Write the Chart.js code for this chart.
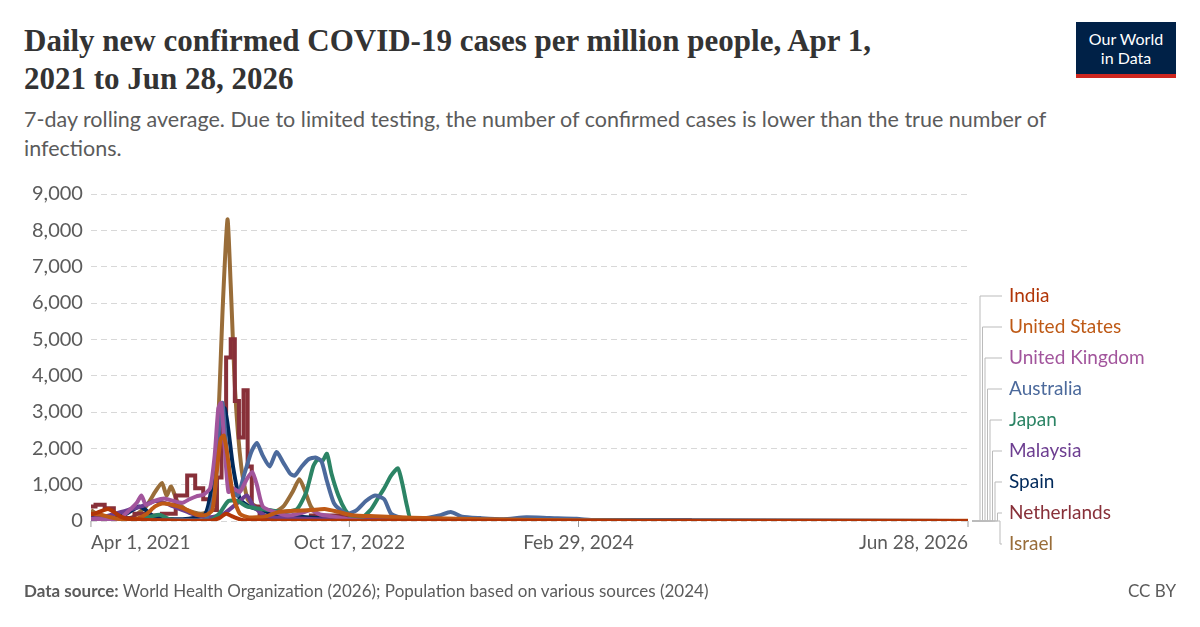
<!DOCTYPE html>
<html lang="en">
<head>
<meta charset="UTF-8">
<title>Daily new confirmed COVID-19 cases per million people</title>
<script src="https://cdn.jsdelivr.net/npm/chart.js"></script>
<style>
    body { margin: 0; width: 1200px; height: 627px; background: #fff; font-family: Lato, sans-serif; position: relative; overflow: hidden; }
    h1 { position: absolute; left: 24px; top: 22px; margin: 0; font-family: "Liberation Serif", serif; font-weight: bold; font-size: 31px; line-height: 38px; color: #333; width: 1000px; }
    .sub { position: absolute; left: 24px; top: 105px; font-size: 21.5px; line-height: 29px; color: #5b5b5b; width: 1150px; }
    .logo { position: absolute; right: 24px; top: 22px; width: 100px; height: 56px; background: #002147; color: #fff; font-size: 16px; line-height: 19px; text-align: center; padding-top: 7px; box-sizing: border-box; border-bottom: 4px solid #ce261e; }
    .foot { position: absolute; left: 24px; top: 580px; font-size: 17px; color: #5b5b5b; }
    .cc { position: absolute; right: 24px; top: 580px; font-size: 17px; color: #5b5b5b; }
    #c { position: absolute; left: 0; top: 0; }
    .leg { position: absolute; left: 1009px; font-size: 19px; line-height: 22px; }
</style>
</head>
<body>
<h1>Daily new confirmed COVID-19 cases per million people, Apr 1,<br>2021 to Jun 28, 2026</h1>
<div class="logo">Our World<br>in Data</div>
<div class="sub">7-day rolling average. Due to limited testing, the number of confirmed cases is lower than the true number of<br>infections.</div>
<canvas id="c" width="1200" height="627"></canvas>
<div id="legend"></div>
<div class="foot"><b>Data source:</b> World Health Organization (2026); Population based on various sources (2024)</div>
<div class="cc">CC BY</div>
<script>
// days since Apr 1, 2021 -> cases per million
const series = [
  { name: 'India', color: '#b13507', pts: [[0,180],[14,230],[28,300],[38,330],[50,250],[65,120],[80,60],[120,30],[200,10],[260,10],[280,80],[295,200],[310,120],[330,30],[400,10],[600,5],[1914,2]] },
  { name: 'United States', color: '#be5915', pts: [[0,200],[20,180],[40,110],[70,40],[100,60],[120,180],[140,400],[155,480],[170,470],[190,400],[210,300],[230,180],[250,160],[265,300],[275,1400],[283,2250],[290,2350],[298,1800],[310,700],[325,200],[345,100],[380,120],[410,250],[440,280],[480,300],[510,330],[540,250],[570,160],[620,130],[700,90],[800,60],[900,40],[1050,20],[1200,10],[1914,5]] },
  { name: 'United Kingdom', color: '#a2559c', pts: [[0,60],[30,50],[60,40],[80,250],[100,500],[110,700],[120,450],[140,560],[160,620],[180,550],[200,500],[215,600],[230,680],[245,720],[260,900],[270,1800],[278,3100],[284,3250],[292,2000],[300,800],[310,900],[325,800],[340,1150],[352,1350],[362,1000],[375,400],[400,250],[430,150],[460,220],[480,300],[500,180],[530,120],[560,50],[600,10],[1914,0]] },
  { name: 'Australia', color: '#4c6a9c', pts: [[0,1],[150,20],[200,30],[250,40],[270,800],[280,2600],[287,3250],[295,2100],[305,900],[320,700],[335,1300],[350,1900],[362,2150],[375,1800],[390,1500],[405,1900],[420,1600],[435,1300],[445,1250],[460,1500],[475,1700],[490,1750],[503,1650],[515,1100],[530,500],[545,300],[560,200],[580,300],[600,550],[620,700],[640,600],[655,200],[680,80],[720,60],[760,150],[785,250],[810,120],[850,80],[900,50],[950,100],[1000,80],[1060,60],[1100,20],[1914,0]] },
  { name: 'Japan', color: '#2c8465', pts: [[0,30],[30,40],[60,20],[100,40],[130,120],[150,170],[170,60],[200,10],[260,10],[280,200],[300,550],[320,550],[340,400],[360,350],[390,300],[420,250],[450,330],[470,800],[485,1500],[495,1700],[505,1650],[515,1850],[525,1300],[540,700],[555,300],[570,100],[590,80],[610,300],[625,600],[640,900],[655,1250],[670,1450],[680,1000],[690,400],[700,50],[1914,0]] },
  { name: 'Malaysia', color: '#6d3e91', pts: [[0,60],[40,150],[80,300],[110,400],[140,550],[160,500],[180,400],[200,300],[220,200],[260,100],[290,200],[320,500],[340,700],[355,400],[380,150],[420,80],[500,50],[600,30],[1914,0]] },
  { name: 'Spain', color: '#00295b', pts: [[0,100],[30,60],[70,150],[105,400],[120,300],[140,100],[200,50],[250,200],[270,1500],[283,2800],[292,3100],[300,2500],[310,1500],[325,600],[345,400],[370,300],[400,200],[430,150],[470,100],[520,60],[600,20],[1914,0]] },
  { name: 'Netherlands', color: '#883039', stepped: true, pts: [[0,400],[20,450],[40,350],[60,150],[80,80],[110,200],[140,150],[170,200],[200,700],[220,1250],[235,900],[255,600],[270,300],[280,1200],[290,3000],[300,4500],[310,5000],[318,3300],[328,2300],[338,3600],[346,1500],[356,400],[380,100],[440,80],[520,150],[600,100],[700,30],[1914,0]] },
  { name: 'Israel', color: '#996d39', pts: [[0,300],[30,60],[60,20],[90,100],[120,400],[140,800],[155,1050],[165,700],[175,950],[190,500],[210,300],[240,200],[260,300],[275,2000],[288,6000],[298,8300],[305,6500],[315,3500],[328,1500],[342,600],[360,400],[380,300],[400,250],[420,400],[440,800],[455,1150],[465,900],[480,400],[500,100],[530,40],[600,10],[1914,0]] }
];

const tickLabels = [[0, 'Apr 1, 2021', 'left'], [564, 'Oct 17, 2022', 'center'], [1064, 'Feb 29, 2024', 'center'], [1914, 'Jun 28, 2026', 'right']];
const legendY = [296, 327, 358, 389, 420, 451, 482, 513, 544];

const extras = {
  id: 'extras',
  afterDraw(chart) {
    const ctx = chart.ctx, area = chart.chartArea;
    const xs = chart.scales.x;
    const y0 = chart.scales.y.getPixelForValue(0);
    ctx.save();
    // x tick labels
    ctx.fillStyle = '#5b5b5b';
    ctx.font = '19px Lato';
    ctx.textBaseline = 'top';
    tickLabels.forEach(([v, t, al]) => {
      const px = xs.getPixelForValue(v);
      ctx.textAlign = al;
      ctx.fillText(t, px, y0 + 12);
      ctx.strokeStyle = '#999';
      ctx.beginPath(); ctx.moveTo(px, y0); ctx.lineTo(px, y0 + 6); ctx.stroke();
    });
    // legend connectors
    ctx.strokeStyle = '#bbb';
    ctx.lineWidth = 1;
    series.forEach((s, i) => {
      const bx = 980 + i * 2.5;
      ctx.beginPath();
      ctx.moveTo(area.right + 4, y0);
      ctx.lineTo(bx, y0);
      ctx.lineTo(bx, legendY[i]);
      ctx.lineTo(1002, legendY[i]);
      ctx.stroke();
    });
    ctx.restore();
  }
};

new Chart(document.getElementById('c'), {
  type: 'line',
  data: {
    datasets: series.map(s => ({
      label: s.name,
      data: s.pts.map(p => ({ x: p[0], y: p[1] })),
      borderColor: s.color,
      borderWidth: 4,
      pointRadius: 0,
      tension: s.stepped ? 0 : 0.2,
      stepped: s.stepped ? 'middle' : false
    }))
  },
  options: {
    responsive: false,
    animation: false,
    layout: { padding: { left: 24, top: 194, right: 232, bottom: 98 } },
    plugins: { legend: { display: false }, tooltip: { enabled: false } },
    scales: {
      x: {
        type: 'linear', min: 0, max: 1914,
        ticks: { display: false },
        grid: { display: false },
        border: { display: false }
      },
      y: {
        min: 0, max: 9000,
        ticks: { stepSize: 1000, font: { family: 'Lato', size: 20 }, color: '#5b5b5b', padding: 8, callback: v => v.toLocaleString('en-US') },
        grid: { color: '#d8d8d8', drawTicks: false },
        border: { display: false, dash: [6, 4] }
      }
    }
  },
  plugins: [extras]
});

document.getElementById('legend').innerHTML = series.map((s, i) =>
  `<div class="leg" style="top:${legendY[i] - 12}px;color:${s.color}">${s.name}</div>`).join('');
</script>
</body>
</html>
